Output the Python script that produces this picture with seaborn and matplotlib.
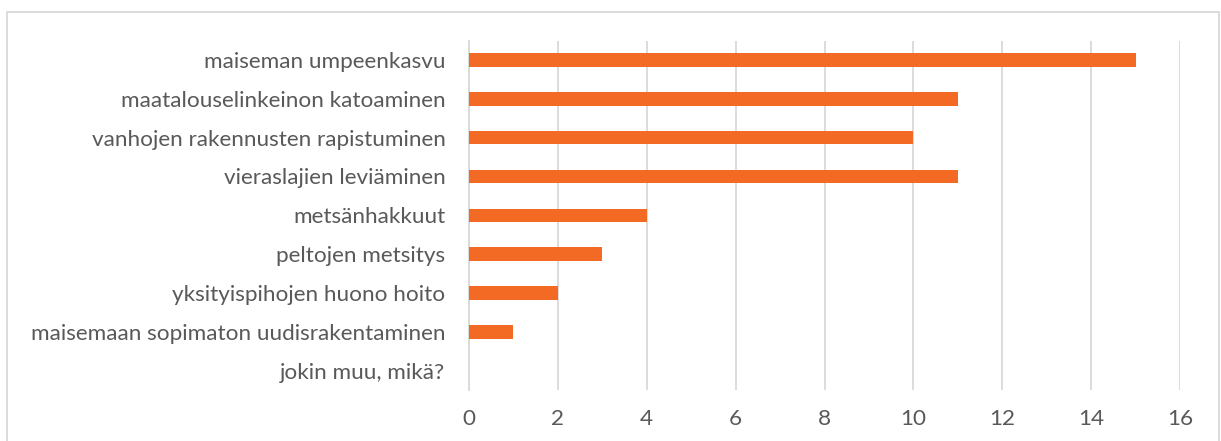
import matplotlib
matplotlib.use("Agg")
import matplotlib.pyplot as plt
import seaborn as sns
import pandas as pd
from matplotlib.patches import Rectangle

categories = [
    "maiseman umpeenkasvu",
    "maatalouselinkeinon katoaminen",
    "vanhojen rakennusten rapistuminen",
    "vieraslajien leviäminen",
    "metsänhakkuut",
    "peltojen metsitys",
    "yksityispihojen huono hoito",
    "maisemaan sopimaton uudisrakentaminen",
    "jokin muu, mikä?",
]
values = [15, 11, 10, 11, 4, 3, 2, 1, 0]
xticks = [0, 2, 4, 6, 8, 10, 12, 14, 16]

sns.set_theme(style="white")
plt.rcParams["font.family"] = ["Lato", "DejaVu Sans"]

df = pd.DataFrame({"cat": categories, "val": values})

fig = plt.figure(figsize=(12.21, 4.41), dpi=100)
W, H = 1221, 441
ax = fig.add_axes([469 / W, 1 - 390 / H, (1180 - 469) / W, (390 - 40.6) / H])

sns.barplot(data=df, x="val", y="cat", orient="h", color="#F26A24",
            saturation=1, width=0.35, linewidth=0, ax=ax, zorder=3)

ax.set_xlim(0, 16)
ax.set_xticks(xticks)
ax.set_xticklabels([str(t) for t in xticks])
ax.set_xlabel("")
ax.set_ylabel("")
ax.grid(axis="x", color="#D9D9D9", linewidth=1.3, zorder=0)
ax.grid(axis="y", visible=False)
for s in ["top", "right", "bottom"]:
    ax.spines[s].set_visible(False)
ax.spines["left"].set_color("#D9D9D9")
ax.spines["left"].set_linewidth(1.3)
ax.tick_params(axis="y", length=0, pad=17, labelsize=16.2, labelcolor="#595959")
ax.tick_params(axis="x", length=0, pad=14, labelsize=16.2, labelcolor="#595959")

fig.patches.append(Rectangle((6.5 / W, -0.05), (1219 - 6.5) / W, 1 - 12 / H + 0.05,
                             transform=fig.transFigure, fill=False,
                             edgecolor="#D9D9D9", linewidth=1.3))

fig.savefig("out.png", dpi=100)
